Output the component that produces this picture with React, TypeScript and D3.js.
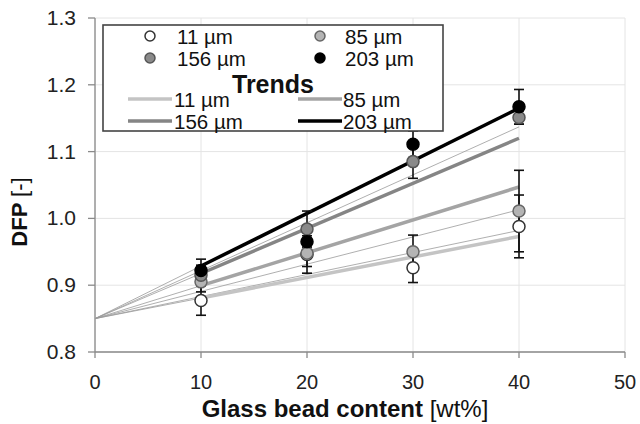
import React from "react";
import * as d3 from "d3";

const contents = [10, 20, 30, 40];
const sizeLabels = ["11 µm", "85 µm", "156 µm", "203 µm"];
const mean11 = [0.877, 0.946, 0.926, 0.988];
const err11 = [0.022, 0.028, 0.022, 0.047];
const mean85 = [0.905, 0.948, 0.95, 1.011];
const err85 = [0.015, 0.02, 0.025, 0.061];
const mean156 = [0.915, 0.984, 1.085, 1.151];
const err156 = [0.015, 0.027, 0.025, 0.01];
const mean203 = [0.922, 0.965, 1.111, 1.167];
const err203 = [0.017, 0.02, 0.02, 0.026];
const trendIntercept = 0.85;
const trendEnd = [0.973, 1.047, 1.12, 1.165]; // value at 40 wt%
const thinFitEnd = [1.137, 1.013, 0.982];
const xTicks = [0, 10, 20, 30, 40, 50];
const yTicks = [0.8, 0.9, 1.0, 1.1, 1.2, 1.3];

const W = 640, H = 424;
const FONT = "'Liberation Sans', Arial, sans-serif";

const markerFill = ["#ffffff", "#b4b4b4", "#8a8a8a", "#000000"];
const markerStroke = ["#333333", "#666666", "#555555", "#000000"];
const lineColor = ["#c4c4c4", "#a4a4a4", "#858585", "#000000"];

export default function App() {
  const x = d3.scaleLinear().domain([0, 50]).range([95, 625]);
  const y = d3.scaleLinear().domain([0.8, 1.3]).range([352, 18]);
  const means = [mean11, mean85, mean156, mean203];
  const errs = [err11, err85, err156, err203];
  const line = d3.line<[number, number]>().x((d) => x(d[0])).y((d) => y(d[1]));
  const trendAt = (i: number, c: number) => trendIntercept + ((trendEnd[i] - trendIntercept) / 40) * c;

  return (
    <svg width={W} height={H} style={{ position: "absolute", left: 0, top: 0, background: "#fff" }} fontFamily={FONT}>
      {/* grid */}
      {xTicks.map((t) => (
        <line key={"gx" + t} x1={x(t)} x2={x(t)} y1={y(1.3)} y2={y(0.8)} stroke="#e4e4e4" strokeWidth={1} />
      ))}
      {yTicks.map((t) => (
        <line key={"gy" + t} x1={x(0)} x2={x(50)} y1={y(t)} y2={y(t)} stroke="#e4e4e4" strokeWidth={1} />
      ))}
      {/* axes */}
      <line x1={x(0)} x2={x(0)} y1={y(1.3)} y2={y(0.8)} stroke="#8a8a8a" strokeWidth={1.3} />
      <line x1={x(0)} x2={x(50)} y1={y(0.8)} y2={y(0.8)} stroke="#8a8a8a" strokeWidth={1.3} />
      {xTicks.map((t) => (
        <g key={"tx" + t}>
          <line x1={x(t)} x2={x(t)} y1={y(0.8)} y2={y(0.8) + 6} stroke="#8a8a8a" strokeWidth={1.3} />
          <text x={x(t)} y={389} fontSize={20} textAnchor="middle" fill="#222">{t}</text>
        </g>
      ))}
      {yTicks.map((t) => (
        <g key={"ty" + t}>
          <line x1={x(0) - 7} x2={x(0)} y1={y(t)} y2={y(t)} stroke="#8a8a8a" strokeWidth={1.3} />
          <text x={76} y={y(t) + 7} fontSize={21} textAnchor="end" fill="#222">{t.toFixed(1)}</text>
        </g>
      ))}
      {/* axis titles */}
      <text x={345} y={417} fontSize={24} textAnchor="middle" fill="#111">
        <tspan fontWeight="bold">Glass bead content </tspan>
        <tspan>[wt%]</tspan>
      </text>
      <text transform={`translate(27,212) rotate(-90)`} fontSize={22} textAnchor="middle" fill="#111">
        <tspan fontWeight="bold">DFP </tspan>
        <tspan>[-]</tspan>
      </text>

      {/* thin fit lines */}
      {thinFitEnd.map((v, i) => (
        <path key={"thin" + i} d={line([[0, trendIntercept], [40, v]]) || ""} fill="none" stroke="#9a9a9a" strokeWidth={0.8} />
      ))}
      {/* trend extensions 0-10 thin */}
      {trendEnd.map((_, i) => (
        <path key={"ext" + i} d={line([[0, trendIntercept], [10, trendAt(i, 10)]]) || ""} fill="none" stroke="#9a9a9a" strokeWidth={0.8} />
      ))}
      {/* thick trend lines */}
      {trendEnd.map((_, i) => (
        <path key={"tr" + i} d={line([[10, trendAt(i, 10)], [40, trendAt(i, 40)]]) || ""} fill="none" stroke={lineColor[i]} strokeWidth={3.5} />
      ))}

      {/* error bars */}
      {means.map((m, i) =>
        m.map((v, j) => {
          const cx = x(contents[j]);
          const t = y(v + errs[i][j]);
          const b = y(v - errs[i][j]);
          return (
            <g key={"e" + i + "-" + j} stroke="#111" strokeWidth={1.6}>
              <line x1={cx} x2={cx} y1={t} y2={b} />
              <line x1={cx - 5} x2={cx + 5} y1={t} y2={t} />
              <line x1={cx - 5} x2={cx + 5} y1={b} y2={b} />
            </g>
          );
        })
      )}
      {/* markers */}
      {means.map((m, i) =>
        m.map((v, j) => (
          <circle key={"m" + i + "-" + j} cx={x(contents[j])} cy={y(v)} r={6} fill={markerFill[i]} stroke={markerStroke[i]} strokeWidth={1.5} />
        ))
      )}

      {/* legend */}
      <rect x={103} y={25} width={340} height={106} fill="#fff" stroke="#444" strokeWidth={1.6} />
      {sizeLabels.map((lab, i) => {
        const col = i % 2;
        const row = Math.floor(i / 2);
        const mx = col === 0 ? 150 : 320;
        const tx = col === 0 ? 177 : 345;
        const my = 36 + row * 22;
        return (
          <g key={"lm" + i}>
            <circle cx={mx} cy={my} r={5} fill={markerFill[i]} stroke={markerStroke[i]} strokeWidth={1.5} />
            <text x={tx} y={my + 8} fontSize={20.5} fill="#111">{lab}</text>
          </g>
        );
      })}
      <text x={273} y={93} fontSize={25} fontWeight="bold" textAnchor="middle" fill="#111">Trends</text>
      {sizeLabels.map((lab, i) => {
        const col = i % 2;
        const row = Math.floor(i / 2);
        const lx = col === 0 ? 128 : 298;
        const tx = col === 0 ? 174 : 343;
        const ly = 99 + row * 22;
        return (
          <g key={"lt" + i}>
            <line x1={lx} x2={lx + 44} y1={ly} y2={ly} stroke={lineColor[i]} strokeWidth={3.5} />
            <text x={tx} y={ly + 8} fontSize={20.5} fill="#111">{lab}</text>
          </g>
        );
      })}
    </svg>
  );
}
